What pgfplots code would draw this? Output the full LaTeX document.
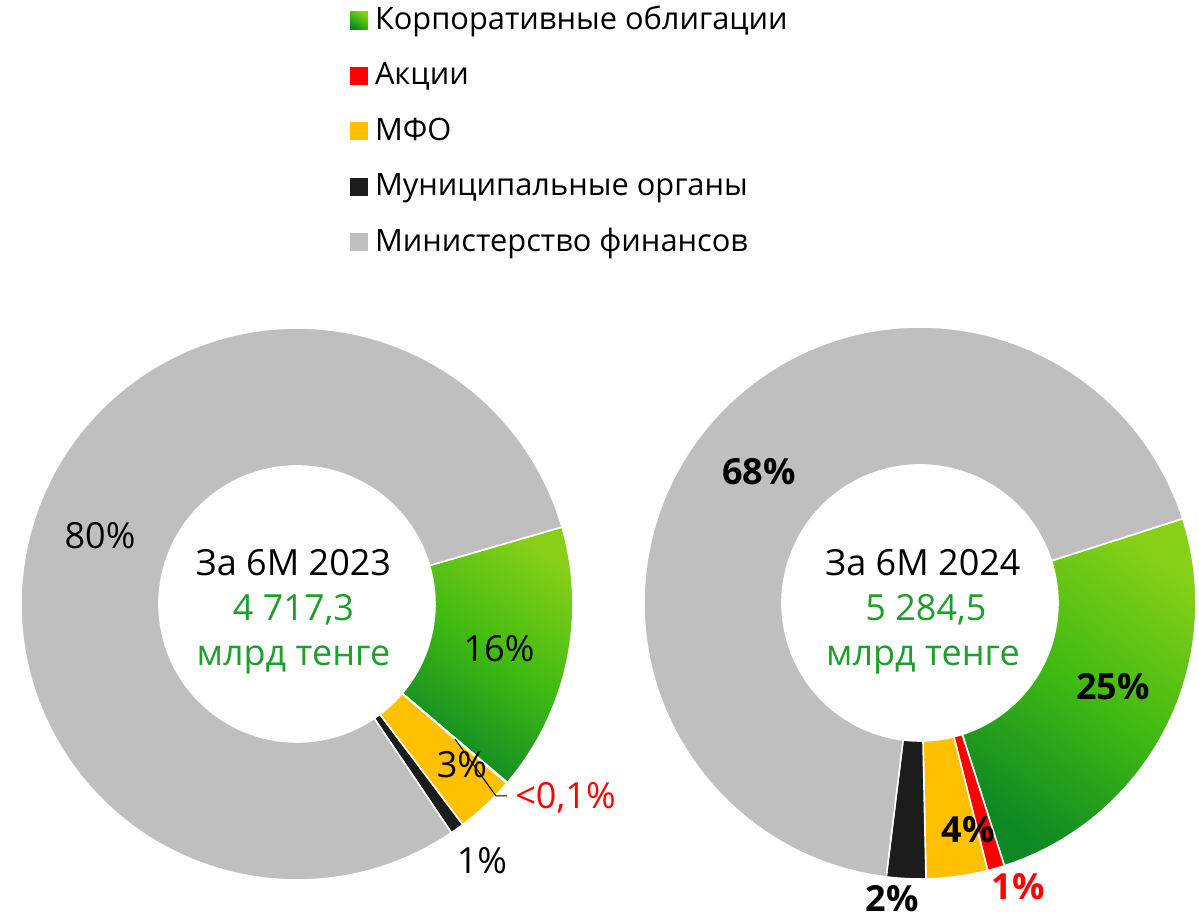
\documentclass[border=0pt]{standalone}
\usepackage{pgfplots}
\pgfplotsset{compat=1.18}
\usepackage{pgfplotstable}
\usepackage{fontspec}
\setmainfont{Open Sans}

\definecolor{corpLight}{RGB}{136,208,24}
\definecolor{corpMid}{RGB}{64,186,18}
\definecolor{corpDark}{RGB}{14,136,36}
\definecolor{akc}{RGB}{255,0,0}
\definecolor{mfo}{RGB}{255,192,0}
\definecolor{muni}{RGB}{28,28,28}
\definecolor{minf}{RGB}{191,191,191}
\definecolor{sumgreen}{RGB}{30,158,42}

\tikzset{
  cat0/.style={top color=corpLight, bottom color=corpDark, middle color=corpMid, shading angle=-35},
  cat1/.style={fill=akc},
  cat2/.style={fill=mfo},
  cat3/.style={fill=muni},
  cat4/.style={fill=minf},
}

% shares in %, order: corp, akcii, mfo, muni, minfin
\pgfplotstableread{
share
15.7
0.05
3.5
0.8
79.95
}\donutA
\pgfplotstableread{
share
25.0
1.0
3.6
2.3
68.1
}\donutB

% cumulative boundary angles, clockwise from a start angle
\newcommand\donutangles[3]{%
  \pgfmathsetmacro\runangle{#3}%
  \expandafter\xdef\csname #2a0\endcsname{\runangle}%
  \pgfplotsforeachungrouped \i in {0,1,2,3,4}{%
    \pgfplotstablegetelem{\i}{share}\of#1%
    \pgfmathsetmacro\runangle{\runangle-3.6*\pgfplotsretval}%
    \pgfmathtruncatemacro\j{\i+1}%
    \expandafter\xdef\csname #2a\j\endcsname{\runangle}%
  }%
}

% ring slice: cx cy start end style (radii 276 / 138 units, 1 unit = 0.5pt)
\newcommand\slice[5]{%
  \path[#5, draw=white, line width=0.8pt]
    (axis cs:{#1+276*cos(#3)},{#2+276*sin(#3)})
    arc[start angle=#3, end angle=#4, radius=138pt]
    -- (axis cs:{#1+138*cos(#4)},{#2+138*sin(#4)})
    arc[start angle=#4, end angle=#3, radius=69pt] -- cycle;
}

\begin{document}
\donutangles{\donutA}{L}{16.2}%
\donutangles{\donutB}{R}{17.8}%
\begin{tikzpicture}
\begin{axis}[
  x=0.5pt, y=0.5pt,
  xmin=0, xmax=1199, ymin=0, ymax=920,
  hide axis, clip=false,
  legend style={at={(axis cs:350,911.7)}, anchor=north west, draw=none, fill=none,
    inner sep=0pt, outer sep=0pt, row sep=14.25pt, column sep=3.5pt,
    font=\fontsize{15.4}{18}\selectfont,
    nodes={inner sep=0pt, text height=10.5pt, text depth=3pt}},
  legend cell align=left,
  legend image code/.code={\path[#1, draw=none] (0pt,-3.75pt) rectangle (9pt,5.25pt);},
]
\coordinate (bl) at (axis cs:0,0);
\coordinate (tr) at (axis cs:1199,920);

\addlegendimage{cat0}\addlegendentry{Корпоративные облигации}
\addlegendimage{cat1}\addlegendentry{Акции}
\addlegendimage{cat2}\addlegendentry{МФО}
\addlegendimage{cat3}\addlegendentry{Муниципальные органы}
\addlegendimage{cat4}\addlegendentry{Министерство финансов}

\pgfplotsinvokeforeach{0,1,2,3,4}{%
  \slice{297}{316}{\csname La#1\endcsname}{\csname La\the\numexpr#1+1\relax\endcsname}{cat#1}
  \slice{920}{317}{\csname Ra#1\endcsname}{\csname Ra\the\numexpr#1+1\relax\endcsname}{cat#1}
}

% centre texts
\node[anchor=base, font=\fontsize{18}{21}\selectfont] at (axis cs:293.5,344) {За 6М 2023};
\node[anchor=base, font=\fontsize{18}{21}\selectfont, text=sumgreen] at (axis cs:293.5,299) {4 717,3};
\node[anchor=base, font=\fontsize{18}{21}\selectfont, text=sumgreen] at (axis cs:293.5,254) {млрд тенге};
\node[anchor=base, font=\fontsize{18}{21}\selectfont] at (axis cs:923,344) {За 6М 2024};
\node[anchor=base, font=\fontsize{18}{21}\selectfont, text=sumgreen] at (axis cs:926,299) {5 284,5};
\node[anchor=base, font=\fontsize{18}{21}\selectfont, text=sumgreen] at (axis cs:923,254) {млрд тенге};

% labels, 2023
\node[anchor=base, font=\fontsize{18}{21}\selectfont] at (axis cs:100,371) {80\%};
\node[anchor=base, font=\fontsize{18}{21}\selectfont] at (axis cs:499,258) {16\%};
\node[anchor=base, font=\fontsize{18}{21}\selectfont] at (axis cs:462,142) {3\%};
\node[anchor=base, font=\fontsize{18}{21}\selectfont] at (axis cs:482,46) {1\%};
\draw[black, line width=0.5pt] (axis cs:455,181) -- (axis cs:496,124) -- (axis cs:507,124);
\node[anchor=base west, inner sep=0pt, font=\fontsize{18}{21}\selectfont, text=akc] at (axis cs:515,111) {<0,1\%};

% labels, 2024
\node[anchor=base, font=\bfseries\fontsize{18}{21}\selectfont] at (axis cs:759,435) {68\%};
\node[anchor=base, font=\bfseries\fontsize{18}{21}\selectfont] at (axis cs:1113,220) {25\%};
\node[anchor=base, font=\bfseries\fontsize{18}{21}\selectfont] at (axis cs:968,77) {4\%};
\node[anchor=base, font=\bfseries\fontsize{18}{21}\selectfont, text=akc] at (axis cs:1018,20) {1\%};
\node[anchor=base, inner sep=0pt, font=\bfseries\fontsize{18}{21}\selectfont] at (axis cs:892,8) {2\%};
\end{axis}
\pgfresetboundingbox
\path (bl) rectangle (tr);
\end{tikzpicture}
\end{document}
